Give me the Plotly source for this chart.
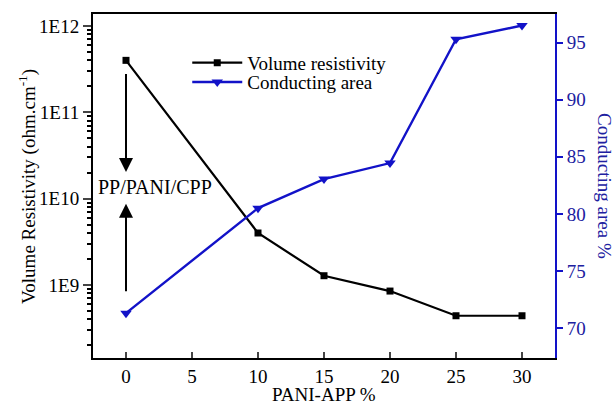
import plotly.graph_objects as go

pani_app = [0, 10, 15, 20, 25, 30]
volume_resistivity = [4.0e11, 4.0e9, 1.28e9, 8.5e8, 4.4e8, 4.4e8]
conducting_area = [71.3, 80.5, 83.05, 84.45, 95.3, 96.5]

x_ticks = [0, 5, 10, 15, 20, 25, 30]
left_tickvals = [1e9, 1e10, 1e11, 1e12]
left_ticktext = ["1E9", "1E10", "1E11", "1E12"]
left_minor = [k * 10.0 ** d for d in range(8, 12) for k in range(2, 10)]
right_ticks = [70, 75, 80, 85, 90, 95]

FONT = "Liberation Serif"
BLUE = "#1212C8"
BLUE_TXT = "#2020A0"

fig = go.Figure()
fig.add_trace(go.Scatter(
    x=pani_app, y=volume_resistivity, name="Volume resistivity", legend="legend",
    mode="lines+markers", line=dict(color="black", width=2.2),
    marker=dict(symbol="square", size=7, color="black"),
))
fig.add_trace(go.Scatter(
    x=pani_app, y=conducting_area, name="Conducting area", yaxis="y2", legend="legend2",
    mode="lines+markers", line=dict(color=BLUE, width=2.4),
    marker=dict(symbol="triangle-down", size=10, color=BLUE),
))

label_text = "PP/PANI/CPP"
arrow_down = dict(x=0, y=10.31, ax=0, ay=11.46)
arrow_up = dict(x=0, y=9.94, ax=0, ay=8.91)

annotations = [
    dict(x=-2.3, y=10.14, xref="x", yref="y", text=label_text, showarrow=False,
         xanchor="left", yanchor="middle", font=dict(family=FONT, size=20, color="black")),
    dict(x=0.5, y=-0.105, xref="paper", yref="paper", text="PANI-APP %", showarrow=False,
         xanchor="center", yanchor="middle", font=dict(family=FONT, size=19, color="black")),
    dict(x=-0.143, y=0.5, xref="paper", yref="paper", text="Volume Resistivity (ohm.cm<sup>-1</sup>)",
         showarrow=False, textangle=-90, xanchor="center", yanchor="middle",
         font=dict(family=FONT, size=19, color="black")),
    dict(x=1.108, y=0.5, xref="paper", yref="paper", text="Conducting area %",
         showarrow=False, textangle=90, xanchor="center", yanchor="middle",
         font=dict(family=FONT, size=19, color=BLUE_TXT)),
]
for a in (arrow_down, arrow_up):
    annotations.append(dict(x=a["x"], y=a["y"], ax=a["ax"], ay=a["ay"], xref="x", yref="y",
                            axref="x", ayref="y", text="", showarrow=True, arrowhead=2,
                            arrowsize=1.4, arrowwidth=2, arrowcolor="black"))

legend_common = dict(xanchor="left", yanchor="middle", bgcolor="rgba(0,0,0,0)",
                     font=dict(family=FONT, size=19, color="black"), itemwidth=50)

fig.update_layout(
    width=613, height=403,
    margin=dict(l=93, r=58, t=14, b=45, autoexpand=False),
    paper_bgcolor="white", plot_bgcolor="white",
    font=dict(family=FONT, size=19, color="black"),
    showlegend=True,
    legend=dict(x=0.204, y=0.858, **legend_common),
    legend2=dict(x=0.204, y=0.802, **legend_common),
    xaxis=dict(range=[-2.5, 32.5], tickvals=x_ticks, ticks="inside", ticklen=6, tickwidth=2,
               showline=True, linecolor="black", linewidth=2, mirror=True, showgrid=False,
               zeroline=False, tickfont=dict(size=19), automargin=False),
    yaxis=dict(type="log", range=[8.154, 12.139], tickvals=left_tickvals, ticktext=left_ticktext,
               ticks="outside", ticklen=8, tickwidth=2, showline=True, linecolor="black",
               linewidth=2, showgrid=False, zeroline=False, tickfont=dict(size=19),
               automargin=False,
               minor=dict(tickmode="array", tickvals=left_minor, ticks="outside", ticklen=4,
                          tickwidth=1.5, tickcolor="black", showgrid=False)),
    yaxis2=dict(overlaying="y", side="right", range=[67.37, 97.51], tickvals=right_ticks,
                ticks="outside", ticklen=6, tickwidth=2, tickcolor=BLUE, showline=True,
                linecolor=BLUE, linewidth=2, showgrid=False, zeroline=False,
                tickfont=dict(size=19, color=BLUE_TXT), automargin=False),
    annotations=annotations,
)

fig.write_html("out.html", config={"displayModeBar": False},
               post_script="document.body.style.margin='0';document.body.style.overflow='hidden';")
